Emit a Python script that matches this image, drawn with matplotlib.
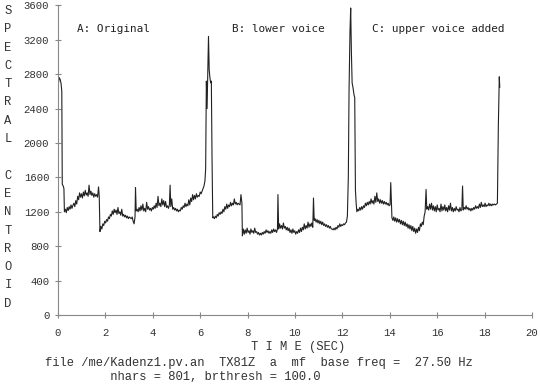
import matplotlib
matplotlib.use("Agg")
import matplotlib.pyplot as plt
import numpy as np

# A: original
time_a = [0.02, 0.05, 0.09, 0.13, 0.16, 0.18, 0.22, 0.25, 0.27, 0.31, 0.35, 0.39, 0.43, 0.47, 0.51, 0.55,
          0.59, 0.63, 0.67, 0.71, 0.75, 0.79, 0.83, 0.87, 0.91, 0.95, 0.99, 1.03, 1.07, 1.11, 1.15, 1.19,
          1.23, 1.27, 1.31, 1.35, 1.39, 1.43, 1.47, 1.51, 1.55, 1.59, 1.63, 1.67, 1.71, 1.74, 1.77, 1.81,
          1.85, 1.89, 1.93, 1.97, 2.01, 2.05, 2.09, 2.13, 2.17, 2.21, 2.25, 2.29, 2.33, 2.37, 2.41, 2.45,
          2.49, 2.53, 2.57, 2.61, 2.65, 2.69, 2.73, 2.77, 2.81, 2.85, 2.89, 2.93, 2.97, 3.01, 3.05, 3.09,
          3.13, 3.17, 3.21, 3.25, 3.27, 3.30, 3.34, 3.38, 3.42, 3.46, 3.50, 3.54, 3.58, 3.62, 3.66, 3.70,
          3.74, 3.78, 3.82, 3.86, 3.90, 3.94, 3.98, 4.02, 4.06, 4.10, 4.14, 4.18, 4.22, 4.26, 4.30, 4.34,
          4.38, 4.42, 4.46, 4.50, 4.54, 4.58, 4.62, 4.66, 4.70, 4.73, 4.76, 4.80, 4.84, 4.88, 4.92, 4.96,
          5.00, 5.04, 5.08, 5.12, 5.16, 5.20, 5.24, 5.28, 5.32, 5.36, 5.40, 5.44, 5.48, 5.52, 5.56, 5.60,
          5.64, 5.68, 5.72, 5.76, 5.80, 5.84, 5.88, 5.92, 5.96, 6.00, 6.04, 6.08, 6.12, 6.16, 6.20, 6.23,
          6.26, 6.29, 6.32, 6.35, 6.38, 6.41, 6.44, 6.47, 6.50, 6.53]
centroid_a = [2700, 2760, 2740, 2690, 2600, 1520, 1500, 1470, 1200, 1230, 1190, 1250, 1215, 1260, 1230, 1280,
              1240, 1275, 1300, 1260, 1330, 1290, 1380, 1340, 1420, 1370, 1410, 1360, 1430, 1385, 1450, 1395,
              1420, 1380, 1510, 1400, 1440, 1390, 1420, 1370, 1410, 1380, 1400, 1370, 1490, 1380, 970, 1030,
              1000, 1060, 1040, 1090, 1070, 1110, 1090, 1140, 1120, 1170, 1150, 1210, 1170, 1230, 1190, 1220,
              1170, 1250, 1180, 1200, 1160, 1230, 1150, 1170, 1140, 1160, 1130, 1150, 1120, 1140, 1130, 1120,
              1140, 1090, 1060, 1140, 1480, 1210, 1230, 1200, 1250, 1210, 1270, 1220, 1290, 1210, 1240, 1200,
              1310, 1230, 1260, 1220, 1240, 1210, 1250, 1230, 1270, 1240, 1300, 1250, 1380, 1270, 1300, 1260,
              1350, 1280, 1330, 1260, 1320, 1250, 1270, 1240, 1280, 1510, 1260, 1350, 1230, 1250, 1220, 1240,
              1210, 1230, 1200, 1220, 1210, 1250, 1230, 1270, 1250, 1300, 1260, 1290, 1270, 1340, 1280, 1360,
              1320, 1400, 1340, 1390, 1350, 1410, 1370, 1390, 1380, 1430, 1410, 1440, 1470, 1500, 1560, 1700,
              2720, 2400, 2800, 3240, 2850, 2760, 2700, 2720, 1800, 1130]

# B: lower voice
time_b = [6.56, 6.60, 6.64, 6.68, 6.72, 6.76, 6.80, 6.84, 6.88, 6.92, 6.96, 7.00, 7.04, 7.08, 7.12, 7.16,
          7.20, 7.24, 7.28, 7.32, 7.36, 7.40, 7.44, 7.48, 7.52, 7.56, 7.60, 7.64, 7.68, 7.72, 7.76, 7.78,
          7.82, 7.86, 7.90, 7.94, 7.98, 8.02, 8.06, 8.10, 8.14, 8.18, 8.22, 8.26, 8.30, 8.34, 8.38, 8.42,
          8.46, 8.50, 8.54, 8.58, 8.62, 8.66, 8.70, 8.74, 8.78, 8.82, 8.86, 8.90, 8.94, 8.98, 9.02, 9.06,
          9.10, 9.14, 9.18, 9.22, 9.26, 9.28, 9.31, 9.35, 9.39, 9.43, 9.47, 9.51, 9.55, 9.59, 9.63, 9.67,
          9.71, 9.75, 9.79, 9.83, 9.87, 9.91, 9.95, 9.99, 10.03, 10.07, 10.11, 10.15, 10.19, 10.23, 10.27,
          10.31, 10.35, 10.39, 10.43, 10.47, 10.51, 10.55, 10.59, 10.63, 10.67, 10.71, 10.75, 10.78, 10.81,
          10.85, 10.89, 10.93, 10.97, 11.01, 11.05, 11.09, 11.13, 11.17, 11.21, 11.25, 11.29, 11.33, 11.37,
          11.41, 11.45, 11.49, 11.53, 11.57, 11.61, 11.65, 11.69, 11.73, 11.77, 11.81, 11.85, 11.89, 11.93,
          11.97, 12.01, 12.05, 12.09, 12.13, 12.17, 12.21, 12.25, 12.28, 12.32, 12.35, 12.38, 12.41, 12.45,
          12.49, 12.52, 12.55, 12.58, 12.61]
centroid_b = [1140, 1120, 1150, 1130, 1170, 1150, 1190, 1170, 1200, 1180, 1230, 1200, 1260, 1230, 1290, 1240,
              1280, 1260, 1310, 1270, 1300, 1280, 1350, 1290, 1310, 1280, 1300, 1290, 1280, 1400, 1300, 920,
              1000, 940, 990, 950, 1010, 960, 980, 940, 1000, 960, 980, 950, 1010, 960, 970, 940,
              960, 930, 950, 930, 960, 940, 970, 950, 990, 960, 980, 950, 970, 950, 990, 960,
              1000, 970, 990, 960, 1000, 1400, 1000, 1060, 1010, 1040, 1000, 1070, 1010, 1030, 990, 1020,
              980, 1010, 960, 990, 950, 1000, 960, 980, 940, 970, 950, 990, 960, 1010, 970,
              1020, 990, 1060, 1000, 1040, 1010, 1080, 1020, 1060, 1030, 1070, 1020, 1360, 1100,
              1120, 1080, 1110, 1070, 1100, 1060, 1090, 1050, 1080, 1040, 1060, 1030, 1050, 1020,
              1040, 1010, 1030, 1000, 1000, 990, 1010, 990, 1020, 1000, 1040, 1020, 1060, 1030,
              1050, 1040, 1060, 1050, 1070, 1080, 1150, 1600, 2600, 3300, 3570, 3050, 2700, 2640,
              2560, 2530, 1450, 1300, 1200]

# C: upper voice added
time_c = [12.65, 12.69, 12.73, 12.77, 12.81, 12.85, 12.89, 12.93, 12.97, 13.01, 13.05, 13.09, 13.13, 13.17,
          13.21, 13.25, 13.29, 13.33, 13.37, 13.41, 13.45, 13.49, 13.53, 13.57, 13.61, 13.65, 13.69, 13.73,
          13.77, 13.81, 13.85, 13.89, 13.93, 13.97, 14.01, 14.04, 14.07, 14.09, 14.13, 14.17, 14.21, 14.25,
          14.29, 14.33, 14.37, 14.41, 14.45, 14.49, 14.53, 14.57, 14.61, 14.65, 14.69, 14.73, 14.77, 14.81,
          14.85, 14.89, 14.93, 14.97, 15.01, 15.05, 15.09, 15.13, 15.17, 15.21, 15.25, 15.29, 15.33, 15.37,
          15.41, 15.45, 15.49, 15.53, 15.56, 15.60, 15.64, 15.68, 15.72, 15.76, 15.80, 15.84, 15.88, 15.92,
          15.96, 16.00, 16.04, 16.08, 16.12, 16.16, 16.20, 16.24, 16.28, 16.32, 16.36, 16.40, 16.44, 16.48,
          16.52, 16.56, 16.60, 16.64, 16.68, 16.72, 16.76, 16.80, 16.84, 16.88, 16.92, 16.96, 17.00, 17.04,
          17.07, 17.10, 17.14, 17.18, 17.22, 17.26, 17.30, 17.34, 17.38, 17.42, 17.46, 17.50, 17.54, 17.58,
          17.62, 17.66, 17.70, 17.74, 17.78, 17.82, 17.86, 17.90, 17.94, 17.98, 18.02, 18.06, 18.10, 18.14,
          18.18, 18.22, 18.26, 18.30, 18.34, 18.38, 18.42, 18.46, 18.50, 18.54, 18.58, 18.62, 18.64]
centroid_c = [1230, 1210, 1250, 1220, 1260, 1230, 1270, 1250, 1300, 1270, 1310, 1280, 1320, 1290,
              1350, 1300, 1330, 1290, 1380, 1310, 1420, 1320, 1350, 1300, 1340, 1300, 1330, 1290,
              1320, 1290, 1310, 1280, 1300, 1270, 1280, 1540, 1300, 1130, 1100, 1140, 1090, 1130,
              1080, 1120, 1080, 1110, 1060, 1100, 1050, 1090, 1040, 1080, 1030, 1060, 1010, 1050,
              1000, 1040, 980, 1030, 970, 1010, 950, 1000, 960, 1020, 980, 1060, 1030, 1080,
              1050, 1150, 1200, 1460, 1230, 1260, 1220, 1290, 1230, 1300, 1220, 1270, 1210, 1260,
              1200, 1280, 1220, 1240, 1200, 1290, 1210, 1260, 1220, 1280, 1210, 1250, 1200, 1270,
              1220, 1300, 1210, 1250, 1200, 1240, 1210, 1260, 1220, 1230, 1200, 1250, 1210, 1230,
              1500, 1220, 1250, 1230, 1270, 1230, 1250, 1220, 1240, 1210, 1240, 1220, 1250, 1230,
              1270, 1240, 1260, 1240, 1290, 1250, 1310, 1260, 1280, 1260, 1300, 1260, 1280, 1270,
              1300, 1270, 1290, 1270, 1290, 1280, 1290, 1280, 1290, 1300, 2200, 2770, 2650]

section_labels = ["A: Original", "B: lower voice", "C: upper voice added"]
section_x = [0.8, 7.35, 13.25]

W, H = 540, 385
fig = plt.figure(figsize=(W / 100, H / 100), dpi=100)
ax = fig.add_axes([58 / W, 1 - 315 / H, 474 / W, 309.6 / H])

t = np.concatenate([time_a, time_b, time_c])
v = np.concatenate([centroid_a, centroid_b, centroid_c])
ax.plot(t, v, color="#222222", lw=0.8)

ax.set_xlim(0, 20)
ax.set_ylim(0, 3600)
ax.set_xticks(np.arange(0, 21, 2))
ax.set_yticks(np.arange(0, 3601, 400))

for s in ["top", "right"]:
    ax.spines[s].set_visible(False)
for s in ["left", "bottom"]:
    ax.spines[s].set_color("#888888")
    ax.spines[s].set_linewidth(0.8)

mono = "Liberation Mono"
ax.tick_params(axis="both", direction="inout", length=5, width=0.8, color="#888888",
               labelcolor="#333333", labelsize=7.7)
ax.tick_params(axis="x", pad=6.5)
ax.tick_params(axis="y", pad=3.8)
for lab in ax.get_xticklabels() + ax.get_yticklabels():
    lab.set_fontfamily(mono)

for lbl, x in zip(section_labels, section_x):
    ax.text(x, 3320, lbl, fontsize=7.9, family="DejaVu Sans Mono", color="#222222", va="center")

# vertical y label, one letter per line
ylabel = "SPECTRAL CENTROID"
for i, ch in enumerate(ylabel):
    fig.text(8 / W, 1 - (11 + 18.3 * i) / H, ch, ha="center", va="center",
             fontsize=8.7, family=mono, color="#333333")

fig.text(298 / W, 1 - 347 / H, "T I M E (SEC)", ha="center", va="center",
         fontsize=8.7, family=mono, color="#333333")
fig.text(45 / W, 1 - 370 / H,
         "file /me/Kadenz1.pv.an  TX81Z  a  mf  base freq =  27.50 Hz\n"
         "         nhars = 801, brthresh = 100.0",
         ha="left", va="center", fontsize=8.7, family=mono, color="#333333")

fig.savefig("out.png", dpi=100)
